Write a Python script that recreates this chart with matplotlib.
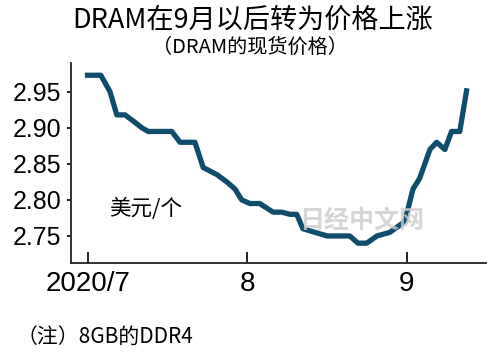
import matplotlib
matplotlib.use("Agg")
from matplotlib import pyplot as plt

# days counted from 2020/7/1
days = [-0.6, 2.5, 4.3, 5.6, 7.2, 8.7, 10.5, 11.7, 16.3, 17.9, 20.8, 22.4, 25.1,
        27.0, 28.6, 29.9, 31.5, 33.4, 36.0, 37.7, 39.3, 40.6, 41.8, 46.5, 50.9,
        52.5, 54.2, 56.2, 58.7, 61.6, 63.2, 64.5, 66.5, 67.8, 69.4, 70.7, 72.3, 73.7]
price = [2.973, 2.973, 2.950, 2.918, 2.918, 2.910, 2.900, 2.895, 2.895, 2.880, 2.880,
         2.845, 2.835, 2.825, 2.815, 2.800, 2.795, 2.795, 2.783, 2.783, 2.780, 2.780,
         2.760, 2.750, 2.750, 2.740, 2.740, 2.750, 2.755, 2.770, 2.815, 2.830, 2.870,
         2.880, 2.870, 2.895, 2.895, 2.955]

xtick_pos = [0, 31, 62]
xtick_labels = ["2020/7", "8", "9"]
ytick_vals = [2.75, 2.80, 2.85, 2.90, 2.95]

title = "DRAM在9月以后转为价格上涨"
subtitle = "（DRAM的现货价格）"
unit = "美元/个"
note = "（注）8GB的DDR4"
watermark = "日经中文网"

cjk = ["Noto Sans CJK SC", "DejaVu Sans"]
num_font = "Liberation Sans"


def draw_graph():
    fig = plt.figure(figsize=(5.0, 3.61), dpi=100)
    ax = fig.add_axes([0.142, 0.2715, 0.83, 0.554])

    ax.plot(days, price, color="#0e4d6b", lw=3.8, solid_joinstyle="round",
            solid_capstyle="butt")

    ax.set_xlim(-3.3, 77.4)
    ax.set_ylim(2.7125, 2.99)

    for s in ["top", "right"]:
        ax.spines[s].set_visible(False)
    for s in ["left", "bottom"]:
        ax.spines[s].set_linewidth(1.3)
        ax.spines[s].set_color("#222222")

    ax.set_yticks(ytick_vals)
    ax.set_yticklabels(["%.2f" % v for v in ytick_vals], fontfamily=num_font, fontsize=18)
    ax.tick_params(axis="y", direction="out", length=3, width=1.2, pad=4)

    ax.set_xticks(xtick_pos)
    ax.set_xticklabels(xtick_labels, fontfamily=num_font, fontsize=20)
    ax.tick_params(axis="x", direction="in", length=8, width=1.2, pad=6)

    ax.text(0.092, 0.27, unit, transform=ax.transAxes, fontsize=15.5,
            family=cjk, va="center", ha="left")
    ax.text(0.55, 0.21, watermark, transform=ax.transAxes, fontsize=18,
            family=cjk, va="center", ha="left", color="#cccccc",
            fontweight="bold", alpha=0.8)

    fig.text(0.505, 0.945, title, fontsize=19.5, family=cjk, ha="center", va="center")
    fig.text(0.5, 0.87, subtitle, fontsize=14.5, family=cjk, ha="center", va="center")
    fig.text(0.034, 0.064, note, fontsize=15, family=cjk, ha="left", va="center")

    fig.savefig("out.png", dpi=100)


if __name__ == "__main__":
    draw_graph()
